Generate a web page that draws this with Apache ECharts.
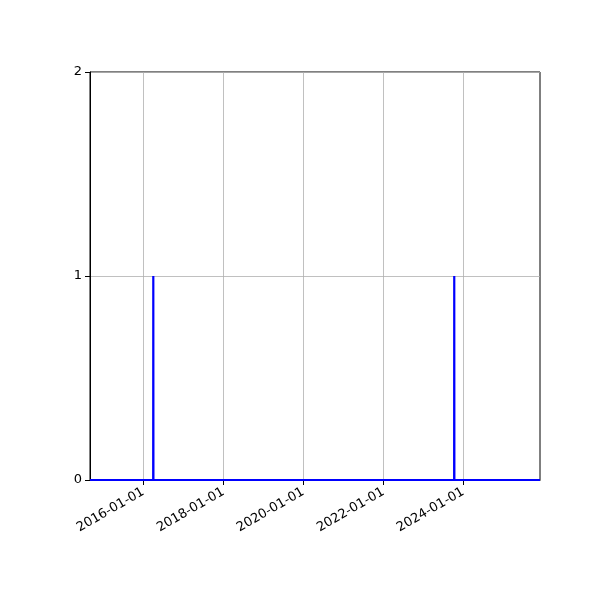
<!DOCTYPE html>
<html>
<head>
<meta charset="UTF-8">
<script src="https://cdn.jsdelivr.net/npm/echarts@6.0.0/dist/echarts.min.js"></script>
<style>
  html, body { margin: 0; padding: 0; background: #fff; }
  #main { width: 600px; height: 600px; }
</style>
</head>
<body>
<div id="main"></div>
<script>
// daily count series: zero except the two event days
const dates = ['2014-09-01', '2016-03-31', '2016-04-01', '2016-04-02',
               '2023-10-09', '2023-10-10', '2023-10-11', '2025-12-01'];
const counts = [0, 0, 1, 0, 0, 1, 0, 0];
const xTicks = ['2016-01-01', '2018-01-01', '2020-01-01', '2022-01-01', '2024-01-01'];
const yTicks = [0, 1, 2];

const xMin = '2014-09-01';
const xMax = '2025-12-01';

const ms = d => +new Date(d + 'T00:00:00Z');
const pad = n => (n < 10 ? '0' : '') + n;
const fmtDate = v => {
  const t = new Date(v);
  return t.getUTCFullYear() + '-' + pad(t.getUTCMonth() + 1) + '-' + pad(t.getUTCDate());
};

const chart = echarts.init(document.getElementById('main'));
const tickMs = xTicks.map(ms);

chart.setOption({
  animation: false,
  grid: {
    left: 90, right: 60, top: 72, bottom: 120,
    show: true, borderColor: '#000', borderWidth: 1, backgroundColor: 'transparent'
  },
  xAxis: {
    type: 'value',
    min: ms(xMin),
    max: ms(xMax),
    axisLine: { show: true, lineStyle: { color: '#000', width: 1 } },
    axisTick: { show: true, length: 5, lineStyle: { color: '#000' }, customValues: tickMs },
    splitLine: { show: true, lineStyle: { color: '#b0b0b0', width: 0.8 } },
    axisLabel: {
      customValues: tickMs,
      rotate: 30,
      color: '#000',
      fontSize: 13,
      fontFamily: 'DejaVu Sans',
      margin: 11,
      formatter: fmtDate
    }
  },
  yAxis: {
    type: 'value',
    min: yTicks[0],
    max: yTicks[yTicks.length - 1],
    interval: 1,
    axisLine: { show: true, lineStyle: { color: '#000', width: 1 } },
    axisTick: { show: true, length: 5, lineStyle: { color: '#000' } },
    splitLine: { show: true, lineStyle: { color: '#b0b0b0', width: 0.8 } },
    axisLabel: { color: '#000', fontSize: 13, fontFamily: 'DejaVu Sans', margin: 8 }
  },
  series: [{
    type: 'line',
    data: dates.map((d, i) => [ms(d), counts[i]]),
    showSymbol: false,
    lineStyle: { color: '#0000ff', width: 2.2 },
    itemStyle: { color: '#0000ff' },
    clip: true,
    z: 5
  }]
});
</script>
</body>
</html>
